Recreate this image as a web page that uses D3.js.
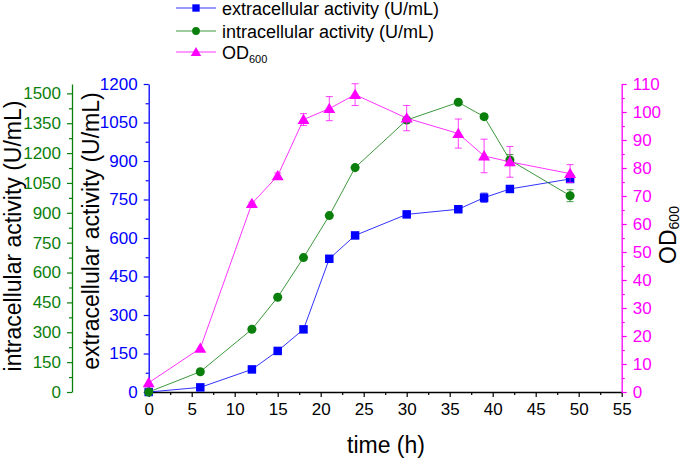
<!DOCTYPE html>
<html>
<head>
<meta charset="utf-8">
<script src="https://cdn.jsdelivr.net/npm/d3@7/dist/d3.min.js"></script>
<style>
  html, body { margin: 0; padding: 0; background: #fff; }
  svg { display: block; font-family: "Liberation Sans", Arial, sans-serif; }
</style>
</head>
<body>
<svg id="chart" width="685" height="458"></svg>
<script>
// ---- data ----
const times = [0, 6, 12, 15, 18, 21, 24, 30, 36, 39, 42, 49];
const extracellular = [0, 18, 88, 160, 244, 519, 610, 692, 712, 757, 791, 830];
const extracellularErr = [0, 0, 0, 0, 0, 0, 0, 0, 7, 18, 12, 14];
const intracellular = [0, 102, 315, 476, 675, 886, 1127, 1366, 1455, 1383, 1165, 986];
const intracellularErr = [0, 0, 0, 0, 0, 0, 0, 8, 10, 12, 28, 30];
const od600 = [3.3, 15.6, 67.3, 77.2, 97.3, 101.2, 106.2, 97.8, 92.3, 84.3, 82.2, 78.0];
const od600Err = [0, 0, 0.5, 1, 2.1, 4.3, 3.9, 4.5, 5.2, 6.0, 5.5, 3.2];

const xTicks = [0, 5, 10, 15, 20, 25, 30, 35, 40, 45, 50, 55];
const extTicks = [0, 150, 300, 450, 600, 750, 900, 1050, 1200];
const intTicks = [0, 150, 300, 450, 600, 750, 900, 1050, 1200, 1350, 1500];
const odTicks = [0, 10, 20, 30, 40, 50, 60, 70, 80, 90, 100, 110];

const legendLabels = ["extracellular activity (U/mL)", "intracellular activity (U/mL)", "OD"];

(function () {
// ---- colors ----
const BLUE = "#0000ff", GREEN = "#0b7f0b", PINK = "#ff00ff";

const svg = d3.select("#chart");
const pLeft = 148.7, pRight = 621.7, pTop = 84, pBottom = 392;
const fmt = d3.format("d");

const x = d3.scaleLinear().domain([0, 55]).range([pLeft, pRight]);
const yExt = d3.scaleLinear().domain([0, 1200]).range([pBottom, pTop]);
const yInt = d3.scaleLinear().domain([0, 1547]).range([pBottom, pTop]);
const yOD = d3.scaleLinear().domain([0, 110]).range([pBottom, pTop]);

function styleAxis(g, color, fontSize) {
  g.select(".domain").attr("stroke", color).attr("stroke-width", 1.3);
  g.selectAll(".tick line").attr("stroke", color).attr("stroke-width", 1.2);
  g.selectAll(".tick text").attr("fill", color).attr("font-size", fontSize)
    .attr("font-family", '"Liberation Sans", Arial, sans-serif');
}

function minor(ticks) {
  const m = [];
  for (let i = 0; i < ticks.length - 1; i++) m.push((ticks[i] + ticks[i + 1]) / 2);
  return m;
}

// X axis
const xMinor = svg.append("g").attr("transform", `translate(0,${pBottom})`)
  .call(d3.axisBottom(x).tickValues(minor(xTicks)).tickSize(3).tickFormat("").tickSizeOuter(0));
styleAxis(xMinor, "#000", 17);
xMinor.select(".domain").remove();
const xAxis = svg.append("g").attr("transform", `translate(0,${pBottom})`)
  .call(d3.axisBottom(x).tickValues(xTicks).tickFormat(fmt).tickSize(5).tickPadding(6).tickSizeOuter(0));
styleAxis(xAxis, "#000", 17);

// Blue (extracellular) axis
const eMinor = svg.append("g").attr("transform", `translate(${pLeft},0)`)
  .call(d3.axisLeft(yExt).tickValues(minor(extTicks)).tickSize(3).tickFormat("").tickSizeOuter(0));
styleAxis(eMinor, BLUE, 17);
eMinor.select(".domain").remove();
const eAxis = svg.append("g").attr("transform", `translate(${pLeft},0)`)
  .call(d3.axisLeft(yExt).tickValues(extTicks).tickFormat(fmt).tickSize(5).tickPadding(6).tickSizeOuter(0));
styleAxis(eAxis, BLUE, 17);

// Green (intracellular) axis
const gx = 72;
const iMinor = svg.append("g").attr("transform", `translate(${gx},0)`)
  .call(d3.axisLeft(yInt).tickValues(minor(intTicks)).tickSize(3).tickFormat("").tickSizeOuter(0));
styleAxis(iMinor, GREEN, 17);
iMinor.select(".domain").remove();
const iAxis = svg.append("g").attr("transform", `translate(${gx},0)`)
  .call(d3.axisLeft(yInt).tickValues(intTicks).tickFormat(fmt).tickSize(5).tickPadding(6).tickSizeOuter(0));
styleAxis(iAxis, GREEN, 17);

// Pink (OD) axis
const oMinor = svg.append("g").attr("transform", `translate(${pRight},0)`)
  .call(d3.axisRight(yOD).tickValues(minor(odTicks)).tickSize(3).tickFormat("").tickSizeOuter(0));
styleAxis(oMinor, PINK, 17);
oMinor.select(".domain").remove();
const oAxis = svg.append("g").attr("transform", `translate(${pRight},0)`)
  .call(d3.axisRight(yOD).tickValues(odTicks).tickFormat(fmt).tickSize(5).tickPadding(6).tickSizeOuter(0));
styleAxis(oAxis, PINK, 17);

// Axis titles
const titleFont = 23;
svg.append("text").attr("x", 386).attr("y", 453).attr("text-anchor", "middle")
  .attr("font-size", titleFont).attr("fill", "#000").text("time (h)");
svg.append("text").attr("transform", "translate(13,236) rotate(-90)")
  .attr("text-anchor", "middle").attr("dominant-baseline", "central")
  .attr("font-size", titleFont).attr("fill", "#000").text("intracellular activity (U/mL)");
svg.append("text").attr("transform", "translate(91,231) rotate(-90)")
  .attr("text-anchor", "middle").attr("dominant-baseline", "central")
  .attr("font-size", titleFont).attr("fill", "#000").text("extracellular activity (U/mL)");
const odT = svg.append("text").attr("transform", "translate(668,235) rotate(-90)")
  .attr("text-anchor", "middle").attr("dominant-baseline", "central")
  .attr("font-size", titleFont).attr("fill", "#000");
odT.append("tspan").text("OD");
odT.append("tspan").attr("font-size", 14).attr("dy", 6).text("600");

// Series
const series = [
  { vals: extracellular, err: extracellularErr, y: yExt, color: BLUE, sym: d3.symbolSquare, size: 72 },
  { vals: intracellular, err: intracellularErr, y: yInt, color: GREEN, sym: d3.symbolCircle, size: 64 },
  { vals: od600, err: od600Err, y: yOD, color: PINK, sym: d3.symbolTriangle, size: 62 }
];

series.forEach(s => {
  const pts = times.map((t, i) => ({ t, v: s.vals[i], e: s.err[i] }));
  const g = svg.append("g");
  g.append("path").datum(pts)
    .attr("fill", "none").attr("stroke", s.color).attr("stroke-width", 1)
    .attr("stroke-opacity", 0.8)
    .attr("d", d3.line().x(d => x(d.t)).y(d => s.y(d.v)));
  const eb = g.selectAll(".eb").data(pts.filter(d => d.e > 0)).enter().append("g")
    .attr("stroke", s.color).attr("stroke-width", 1).attr("stroke-opacity", 0.75);
  eb.append("line").attr("x1", d => x(d.t)).attr("x2", d => x(d.t))
    .attr("y1", d => s.y(d.v - d.e)).attr("y2", d => s.y(d.v + d.e));
  eb.append("line").attr("x1", d => x(d.t) - 3.5).attr("x2", d => x(d.t) + 3.5)
    .attr("y1", d => s.y(d.v + d.e)).attr("y2", d => s.y(d.v + d.e));
  eb.append("line").attr("x1", d => x(d.t) - 3.5).attr("x2", d => x(d.t) + 3.5)
    .attr("y1", d => s.y(d.v - d.e)).attr("y2", d => s.y(d.v - d.e));
  g.selectAll(".m").data(pts).enter().append("path")
    .attr("transform", d => `translate(${x(d.t)},${s.y(d.v) + (s.sym === d3.symbolTriangle ? 1 : 0)})`)
    .attr("d", d3.symbol().type(s.sym).size(s.size))
    .attr("fill", s.color);
});

// Legend
const legY = [8, 31, 52];
series.forEach((s, i) => {
  const g = svg.append("g");
  g.append("line").attr("x1", 176).attr("x2", 216).attr("y1", legY[i]).attr("y2", legY[i])
    .attr("stroke", s.color).attr("stroke-width", 1).attr("stroke-opacity", 0.8);
  g.append("path").attr("transform", `translate(196,${legY[i] + (i === 2 ? 1 : 0)})`)
    .attr("d", d3.symbol().type(s.sym).size(s.size * 0.75)).attr("fill", s.color);
  const t = g.append("text").attr("x", 222).attr("y", legY[i] + 1)
    .attr("dominant-baseline", "central").attr("font-size", 18).attr("fill", "#000");
  t.append("tspan").text(legendLabels[i]);
  if (i === 2) t.append("tspan").attr("font-size", 11).attr("dy", 6).text("600");
});
})();
</script>
</body>
</html>
